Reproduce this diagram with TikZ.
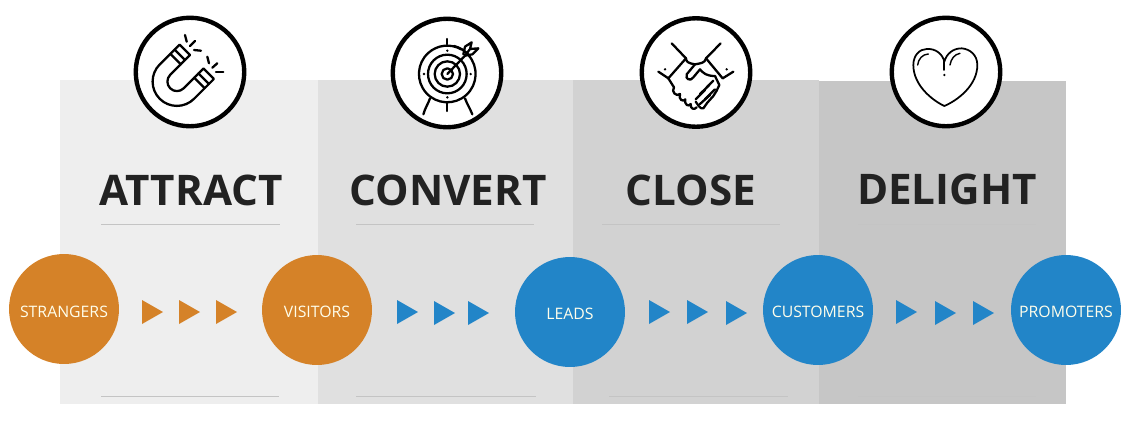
\documentclass[tikz,border=0pt]{standalone}
\usepackage{fontspec}
\setmainfont{Open Sans}
\usepackage{xcolor}
\definecolor{stageorange}{RGB}{213,130,40}
\definecolor{stageblue}{RGB}{34,133,200}
\definecolor{titlegray}{RGB}{34,34,34}
\definecolor{rulegray}{RGB}{196,196,196}
\definecolor{panelA}{RGB}{238,238,238}
\definecolor{panelB}{RGB}{224,224,224}
\definecolor{panelC}{RGB}{210,210,210}
\definecolor{panelD}{RGB}{198,198,198}
\newcommand{\dropped}[2]{\raisebox{-#1pt}[0pt][0pt]{#2}}
\tikzset{
    stage/.style={circle, minimum size=2.2cm, inner sep=0pt, outer sep=0pt, text=white!92!yellow, font=\fontsize{9}{11}\selectfont},
    ring/.style={circle, draw=black, fill=white, line width=2.5pt, minimum size=2.17cm, inner sep=0pt, outer sep=0pt},
    title/.style={text=titlegray, inner sep=0pt, font=\fontsize{24}{28}\selectfont\bfseries},
    icon/.style={line width=1.3pt, black, line cap=round, line join=round}
}

\begin{document}
\begin{tikzpicture}[x=0.02cm, y=-0.02cm]
    \useasboundingbox (0,0) rectangle (1140,430);
    % Panels
    \fill [panelA] (60,80) rectangle (318,404);
    \fill [panelB] (318,80) rectangle (573,404);
    \fill [panelC] (573,80) rectangle (819,404);
    \fill [panelD] (819,81) rectangle (1066,404);

    % Rules
    \foreach \a/\b in {101/280, 356/534, 602/780, 858/1036}
        \draw [rulegray, line width=0.5pt] (\a,224) -- (\b,224);
    \foreach \a/\b in {101/279, 356/536, 609/788, 858/1036}
        \draw [rulegray, line width=0.5pt] (\a,396) -- (\b,396);

    % Titles
    \node [title] (attract) at (191,190.5) {ATTRACT};
    \node [title] (convert) at (448,190.5) {CONVERT};
    \node [title] (close) at (691,190.5) {CLOSE};
    \node [title] (delight) at (947,189.5) {DELIGHT};

    % Icon rings
    \node [ring] (magnetring) at (190,72) {};
    \node [ring] (targetring) at (447,73) {};
    \node [ring] (handsring) at (696,72.5) {};
    \node [ring] (heartring) at (946,72) {};

    % Magnet
    \begin{scope}[shift={(176.9,81.6)}, rotate=-45, icon]
        \draw (-24.3,-28) -- (-24.3,0) arc (180:0:24.3) -- (24.3,-28) -- (9.5,-28) -- (9.5,0) arc (0:180:9.5) -- (-9.5,-28) -- cycle;
        \draw (-24.3,-15) -- (-9.5,-15);
        \draw (24.3,-15) -- (9.5,-15);
        \draw (-24.3,-21) -- (-9.5,-21);
        \draw (24.3,-21) -- (9.5,-21);
    \end{scope}
    \begin{scope}[icon]
        \draw (185,35) -- (186.7,41.7);
        \draw (190,46) -- (195,41);
        \draw (194,50) -- (201,50.7);
        \draw (207.3,56.7) -- (209,63.3);
        \draw (212.3,67.7) -- (217.3,63.3);
        \draw (216,71.7) -- (223.3,71.7);
    \end{scope}

    % Target
    \begin{scope}[shift={(415,35)}, scale=1/3, icon]
        \draw (97,117) circle (17);
        \draw (97,117) circle (38);
        \draw (97,117) circle (58);
        \draw (117,33) arc (-76:-40:86) ;
        \draw (160,60) arc (-42:300:85);
        \draw (97,117) -- (150,62);
        \draw (97,12) -- (97,28);
        \draw (97,205) -- (97,228);
        \draw (45,190) .. controls (40,205) and (30,220) .. (25,238);
        \draw (150,190) .. controls (155,205) and (165,220) .. (172,238);
        \draw (145,58) -- (150,35) -- (170,22) -- (165,42) -- (150,62) -- (172,58) -- (190,40) -- (165,42);
        \fill (97,47) circle (4);
        \fill (97,187) circle (4);
        \fill (27,117) circle (4);
        \fill (167,117) circle (4);
    \end{scope}

    % Handshake
    \begin{scope}[shift={(650,30)}, scale=1/3, icon]
        \draw (65,40) -- (108,85) -- (55,145);
        \draw (212,40) -- (168,85) -- (218,145);
        \draw (25,125) -- (55,145);
        \draw (250,125) -- (218,145);
        \draw (108,85) .. controls (108,95) and (115,100) .. (135,103) .. controls (150,100) and (165,100) .. (168,85);
        \draw (135,103) -- (110,133) .. controls (105,148) and (122,155) .. (130,142) -- (150,118) .. controls (160,130) and (170,138) .. (195,138) -- (208,165) -- (200,182) -- (190,198) -- (172,218) -- (160,235) .. controls (150,238) and (145,225) .. (137,215);
        \draw (55,145) -- (72,172);
        \draw (72,172) .. controls (62,185) and (80,202) .. (90,192) .. controls (84,208) and (100,218) .. (106,208) .. controls (102,224) and (116,232) .. (122,222) .. controls (120,238) and (134,240) .. (140,232);
        \draw (170,172) -- (190,152);
        \draw (150,192) -- (178,165);
        \draw (165,208) -- (195,178);
        \draw (137,208) -- (165,180);
        \draw (150,222) -- (180,195);
        \fill (45,118) circle (4);
        \fill (230,118) circle (4);
    \end{scope}

    % Heart
    \begin{scope}[shift={(905,35)}, scale=1/3, icon, line width=1pt]
        \draw (118,213) .. controls (80,195) and (25,150) .. (25,90) .. controls (25,60) and (45,42) .. (65,42) .. controls (90,40) and (112,55) .. (118,80) .. controls (125,55) and (145,40) .. (170,40) .. controls (195,42) and (217,60) .. (217,90) .. controls (217,150) and (160,195) .. (118,213);
        \draw [line width=0.8pt] (38,90) .. controls (40,72) and (52,58) .. (70,57);
        \draw [line width=0.8pt] (135,90) .. controls (138,72) and (148,58) .. (165,55);
        \draw (118,80) -- (118,105);
        \fill (118,120) circle (4);
    \end{scope}

    % Stage circles
    \node [stage, fill=stageorange] (strangers) at (64,309) {\dropped{4.9}{STRANGERS}};
    \node [stage, fill=stageorange] (visitors) at (317,310) {\dropped{4.3}{VISITORS}};
    \node [stage, fill=stageblue] (leads) at (570,312) {\dropped{4.3}{LEADS}};
    \node [stage, fill=stageblue] (customers) at (818,310) {\dropped{4.3}{CUSTOMERS}};
    \node [stage, fill=stageblue] (promoters) at (1066,310) {\dropped{4.3}{PROMOTERS}};

    % Triangles
    \foreach \x in {142, 179, 216}
        \fill [stageorange] (\x,300) -- (\x+21,312) -- (\x,324) -- cycle;
    \foreach \x/\y in {397/312, 434/313, 468/313, 649/312, 687/312, 726/313, 896/312, 935/313, 973/313}
        \fill [stageblue] (\x,\y-12) -- (\x+21,\y) -- (\x,\y+12) -- cycle;
\end{tikzpicture}
\end{document}
